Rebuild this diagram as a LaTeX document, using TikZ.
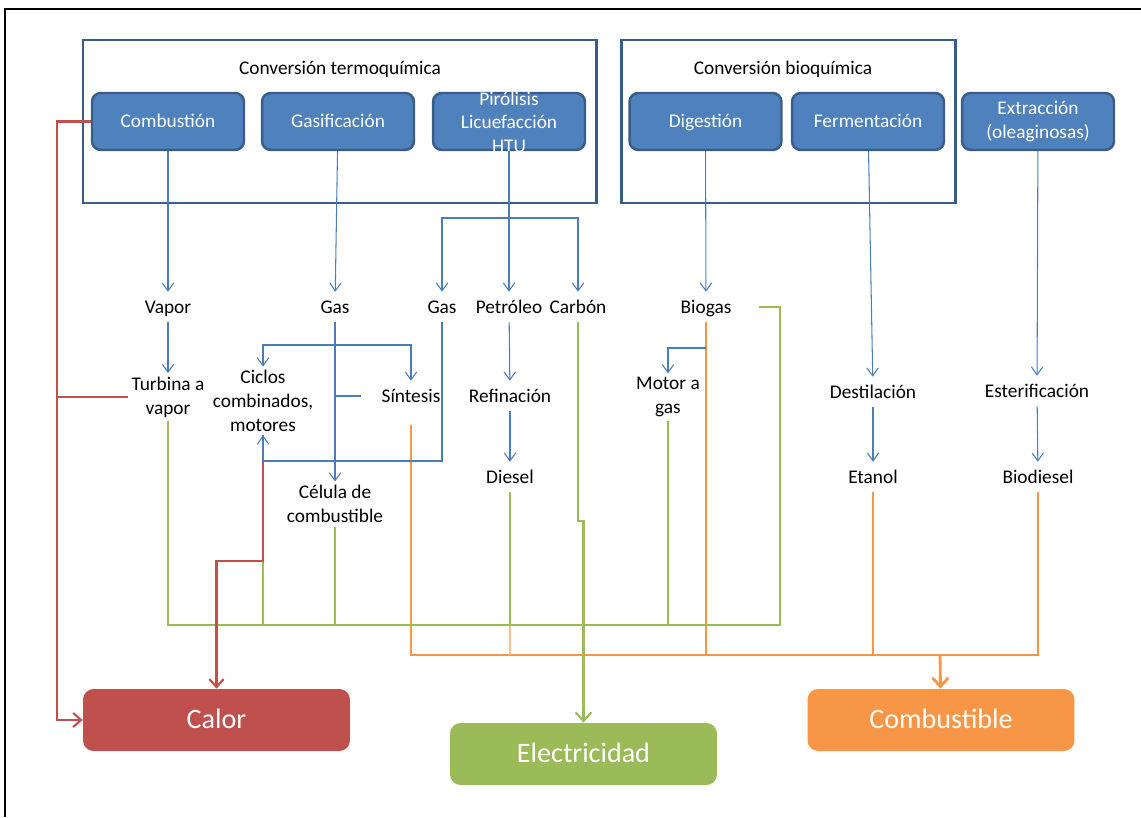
\documentclass[tikz,border=0pt]{standalone}
\usepackage{fontspec}
\setmainfont{Carlito}
\usepackage{tikz}
\usetikzlibrary{arrows.meta, calc, positioning}

\definecolor{azulcaja}{HTML}{4F81BD}
\definecolor{azulborde}{HTML}{385D8A}
\definecolor{azullinea}{HTML}{4A7EBB}
\definecolor{rojo}{HTML}{C0504D}
\definecolor{verde}{HTML}{9BBB59}
\definecolor{naranja}{HTML}{F79646}

\tikzset{
    proceso/.style={draw=azulborde, line width=1.4pt, fill=azulcaja, rounded corners=5pt,
        text=white, minimum width=3.04cm, minimum height=1.14cm, align=center,
        font=\fontsize{11}{13.3}\selectfont},
    textoblanco/.style={text=white, align=center, inner sep=0pt, font=\fontsize{11}{13.3}\selectfont},
    destino/.style={rounded corners=6pt, text=white, minimum width=5.34cm, minimum height=1.24cm,
        text height=12pt, text depth=2pt, font=\fontsize{16}{18}\selectfont},
    etiqueta/.style={align=center, inner sep=3.5pt, font=\fontsize{11}{13.5}\selectfont},
    varias/.style={etiqueta, inner sep=2pt},
    unalinea/.style={text height=8.6pt, text depth=1.4pt},
    marco/.style={draw=azulborde, line width=1.7pt},
    lineaazul/.style={draw=azullinea, line width=0.6pt},
    flecha/.style={lineaazul, -{Straight Barb[length=4.5pt, width=6.5pt]}},
    linearoja/.style={draw=rojo, line width=1.2pt},
    flecharoja/.style={linearoja, -{Straight Barb[length=4.5pt, width=8pt]}},
    lineaverde/.style={draw=verde, line width=1.2pt},
    flechaverde/.style={lineaverde, -{Straight Barb[length=5pt, width=9pt]}},
    lineanaranja/.style={draw=naranja, line width=1.2pt},
    flechanaranja/.style={draw=naranja, line width=1.6pt, -{Straight Barb[length=5pt, width=9pt]}},
}

\begin{document}
\begin{tikzpicture}[x=0.02cm, y=-0.02cm]
    \useasboundingbox (0,0) rectangle (1141,817);
    \draw[black, line width=0.6pt] (5,817) -- (5,9) -- (1141,9);

    % =================================================================
    % PROCESOS DE CONVERSIÓN
    % =================================================================
    \draw[marco] (83,40) rectangle (596,203);
    \draw[marco] (621,40) rectangle (955,203);
    \node[etiqueta, unalinea] (termo) at (340,68) {Conversión termoquímica};
    \node[etiqueta, unalinea] (bio) at (783,68) {Conversión bioquímica};

    \node[proceso, unalinea] (combustion) at (168,121.5) {Combustión};
    \node[proceso, unalinea] (gasificacion) at (338,121.5) {Gasificación};
    \node[proceso] (pirolisis) at (509,121.5) {};
    \node[textoblanco] (pirolisistxt) at (509,122) {Pirólisis\\Licuefacción\\HTU};
    \node[proceso, unalinea] (digestion) at (705.5,121.5) {Digestión};
    \node[proceso, unalinea] (fermentacion) at (868,121.5) {Fermentación};
    \node[proceso] (extraccion) at (1038,121.5) {Extracción\\(oleaginosas)};

    % =================================================================
    % PRODUCTOS INTERMEDIOS
    % =================================================================
    \node[etiqueta, unalinea] (vapor) at (168,307) {Vapor};
    \node[etiqueta, unalinea] (gasA) at (335,307) {Gas};
    \node[etiqueta, unalinea] (gasB) at (442,307) {Gas};
    \node[etiqueta, unalinea] (petroleo) at (509,307) {Petróleo};
    \node[etiqueta, unalinea] (carbon) at (578,307) {Carbón};
    \node[etiqueta, unalinea] (biogas) at (706,307) {Biogas};

    \node[varias] (turbina) at (168,397) {Turbina a\\vapor};
    \node[varias] (ciclos) at (263,401) {Ciclos\\combinados,\\motores};
    \node[etiqueta, unalinea] (sintesis) at (411,396) {Síntesis};
    \node[etiqueta, unalinea] (refinacion) at (510,396) {Refinación};
    \node[varias] (motor) at (668,397) {Motor a\\gas};
    \node[etiqueta, unalinea] (destilacion) at (873,392) {Destilación};
    \node[etiqueta, unalinea] (esterificacion) at (1037,391) {Esterificación};

    \node[varias] (celula) at (335,504) {Célula de\\combustible};
    \node[etiqueta, unalinea] (diesel) at (510,477) {Diesel};
    \node[etiqueta, unalinea] (etanol) at (873,477) {Etanol};
    \node[etiqueta, unalinea] (biodiesel) at (1038,477) {Biodiesel};

    % =================================================================
    % USOS FINALES
    % =================================================================
    \node[destino, fill=rojo] (calor) at (216.5,720) {Calor};
    \node[destino, fill=verde] (electricidad) at (583.5,754) {Electricidad};
    \node[destino, fill=naranja] (combustible) at (941,720) {Combustible};

    % Puntos de quiebre de las líneas
    \coordinate (ramaP) at (509,218);
    \coordinate (ramaG) at (335,345);
    \coordinate (ramaB) at (706,348);
    \coordinate (codoG) at (442,461);
    \coordinate (codoR) at (263,561);
    \coordinate (izq) at (57,121.5);
    \coordinate (jogC) at (578,521);
    \coordinate (busE) at (780,625);
    \coordinate (busC) at (940,655);

    % Líneas naranjas hacia combustible
    \draw[lineanaranja, shorten <=8pt] (sintesis) |- (biodiesel |- busC) -- (biodiesel);
    \draw[lineanaranja] (biogas) -- (biogas |- busC);
    \draw[lineanaranja] (etanol) -- (etanol |- busC);
    \draw[lineanaranja, naranja!60] (diesel |- busE) -- (diesel |- busC);
    \draw[flechanaranja] (busC) -- (combustible);

    % Líneas verdes hacia electricidad
    \draw[lineaverde] (turbina) |- (busE) |- ([xshift=12pt]biogas.east);
    \draw[lineaverde] (ciclos) -- (ciclos |- busE);
    \draw[lineaverde] (celula) -- (celula |- busE);
    \draw[lineaverde] (diesel) -- (diesel |- busE);
    \draw[lineaverde] (motor) -- (motor |- busE);
    \draw[flechaverde] (carbon) -- (jogC) -| (electricidad);

    % Líneas rojas hacia calor
    \draw[flecharoja] (combustion) -- (izq) |- (calor);
    \draw[linearoja] (turbina) -- (turbina -| izq);
    \draw[flecharoja] (ciclos) -- (codoR) -| (calor);

    % Flechas azules entre procesos
    \draw[flecha] (combustion) -- (vapor);
    \draw[flecha] (gasificacion) -- (gasA);
    \draw[lineaazul] (pirolisis) -- (ramaP);
    \draw[flecha] (ramaP) -| (gasB);
    \draw[flecha] (ramaP) -- (petroleo);
    \draw[flecha] (ramaP) -| (carbon);
    \draw[flecha] (digestion) -- (biogas);
    \draw[flecha] (fermentacion) -- (destilacion);
    \draw[flecha] (extraccion) -- (esterificacion);
    \draw[flecha] (vapor) -- (turbina);
    \draw[flecha] (gasA) -- (celula);
    \draw[flecha] (ramaG) -| (ciclos);
    \draw[flecha] (ramaG) -| (sintesis);
    \draw[lineaazul, shorten >=8pt] (ramaG |- sintesis) -- (sintesis);
    \draw[flecha] (gasB) -- (codoG) -| (ciclos);
    \draw[flecha] (petroleo) -- (refinacion);
    \draw[flecha] (refinacion) -- (diesel);
    \draw[flecha] (ramaB) -| (motor);
    \draw[flecha] (destilacion) -- (etanol);
    \draw[flecha] (esterificacion) -- (biodiesel);
\end{tikzpicture}
\end{document}
